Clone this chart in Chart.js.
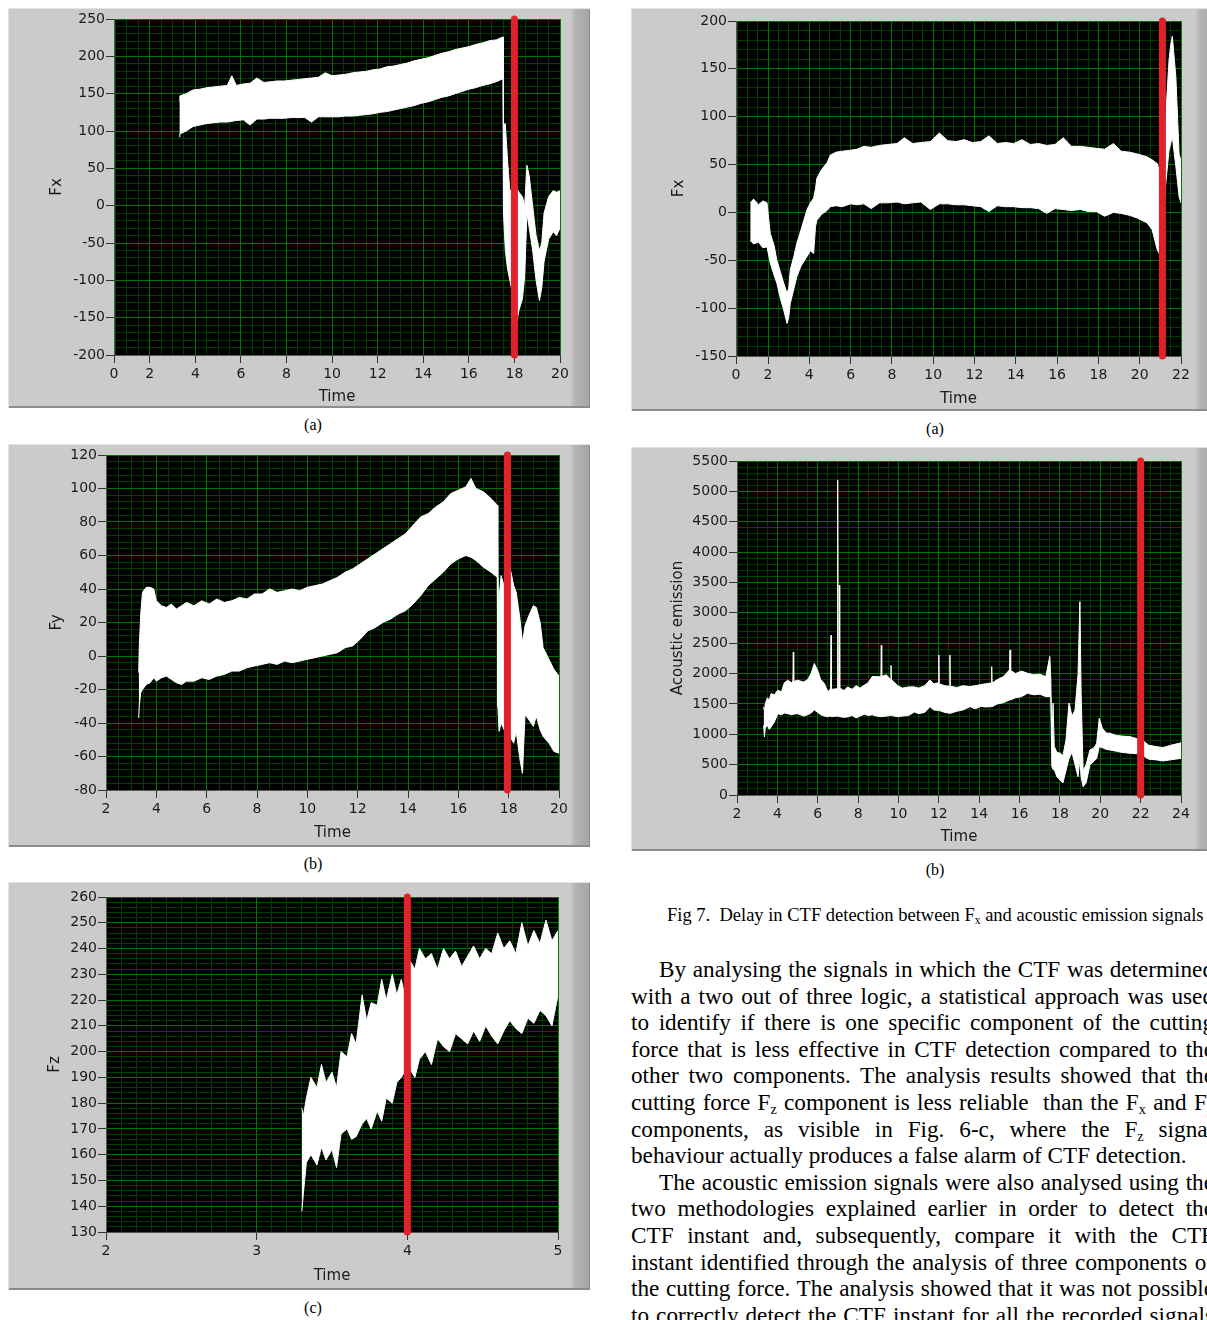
<!DOCTYPE html>
<html lang="en">
<head>
<meta charset="UTF-8">
<title>CTF detection: cutting force and acoustic emission</title>
<script src="https://cdn.jsdelivr.net/npm/chart.js"></script>
<style>
  html, body { margin: 0; padding: 0; background: #fff; }
  body {
    width: 1207px; height: 1320px; position: relative; overflow: hidden;
    font-family: "Liberation Serif", "Times New Roman", serif; color: #000;
  }
  .frame {
    position: absolute;
    background: linear-gradient(to right, #cbcbcb 0, #cbcbcb calc(100% - 20px), #b4b4b4 calc(100% - 15px), #a4a4a4 100%);
    box-shadow: inset 1px 1px 0 #e4e4e4, inset -1px -2px 0 #8c8c8c;
  }
  .frame canvas { position: absolute; left: 0; top: 0; }
  .cap { position: absolute; font-size: 16px; transform: translate(-50%, -50%); white-space: nowrap; }
  .figcap { position: absolute; left: 667px; top: 905px; font-size: 18.5px; white-space: nowrap; }
  .text { position: absolute; left: 631px; top: 956px; width: 583px; font-size: 23.2px; }
  .ln { height: 26.6px; line-height: 26.6px; white-space: nowrap; text-align: justify; text-align-last: justify; }
  .ln.first { text-indent: 28px; }
  .ln.last { text-align-last: left; }
  sub { font-size: 0.62em; vertical-align: -0.25em; line-height: 0; }
</style>
</head>
<body>

<div class="frame" id="f1"><canvas id="c1"></canvas></div>
<div class="frame" id="f2"><canvas id="c2"></canvas></div>
<div class="frame" id="f3"><canvas id="c3"></canvas></div>
<div class="frame" id="f4"><canvas id="c4"></canvas></div>
<div class="frame" id="f5"><canvas id="c5"></canvas></div>

<div class="cap" style="left:313px;top:425px">(a)</div>
<div class="cap" style="left:313px;top:864px">(b)</div>
<div class="cap" style="left:313px;top:1308px">(c)</div>
<div class="cap" style="left:935px;top:429px">(a)</div>
<div class="cap" style="left:935px;top:870px">(b)</div>

<div class="figcap">Fig 7.&nbsp; Delay in CTF detection between F<sub>x</sub> and acoustic emission signals</div>

<div class="text">
  <div class="ln first">By analysing the signals in which the CTF was determined</div>
  <div class="ln">with a two out of three logic, a statistical approach was used</div>
  <div class="ln">to identify if there is one specific component of the cutting</div>
  <div class="ln">force that is less effective in CTF detection compared to the</div>
  <div class="ln">other two components. The analysis results showed that the</div>
  <div class="ln">cutting force F<sub>z</sub> component is less reliable &nbsp;than the F<sub>x</sub> and F<sub>y</sub></div>
  <div class="ln">components, as visible in Fig. 6-c, where the F<sub>z</sub> signal</div>
  <div class="ln last">behaviour actually produces a false alarm of CTF detection.</div>
  <div class="ln first">The acoustic emission signals were also analysed using the</div>
  <div class="ln">two methodologies explained earlier in order to detect the</div>
  <div class="ln">CTF instant and, subsequently, compare it with the CTF</div>
  <div class="ln">instant identified through the analysis of three components of</div>
  <div class="ln">the cutting force. The analysis showed that it was not possible</div>
  <div class="ln">to correctly detect the CTF instant for all the recorded signals</div>
</div>

<script>
// ---- (a) left: Fx vs time, red line = detected CTF instant
const p1Time = [3.30, 3.32, 3.6, 3.9, 4.2, 4.5, 4.8, 5.1, 5.4, 5.6,
  5.8, 6.1, 6.4, 6.7, 7.0, 7.3, 7.6, 7.9, 8.2, 8.5,
  8.8, 9.1, 9.4, 9.7, 10.0, 10.3, 10.6, 10.9, 11.2, 11.5,
  11.8, 12.1, 12.4, 12.7, 13.0, 13.3, 13.6, 13.9, 14.2, 14.5,
  14.8, 15.1, 15.4, 15.7, 16.0, 16.3, 16.6, 16.9, 17.2, 17.5,
  17.52, 17.6, 17.7, 17.8, 18.0, 18.1, 18.2, 18.35, 18.45, 18.55,
  18.65, 18.8, 18.95, 19.1, 19.2, 19.3, 19.5, 19.7, 19.85, 20.0];
const p1Upper = [140, 147, 150, 155, 156, 158, 159, 160, 161, 174,
  161, 163, 164, 171, 165, 166, 167, 167, 168, 169,
  170, 171, 172, 178, 174, 175, 176, 178, 179, 180,
  182, 183, 186, 187, 189, 191, 194, 196, 198, 201,
  204, 206, 209, 211, 213, 216, 218, 221, 222, 226,
  108, 110, 60, 20, 25, 23, 18, 12, 0, 54,
  40, 0, -40, -60, -50, -10, 12, 20, 18, 20];
const p1Lower = [92, 96, 100, 106, 108, 110, 111, 112, 112, 113,
  114, 115, 108, 116, 116, 117, 117, 117, 118, 118,
  118, 112, 119, 119, 119, 119, 120, 120, 121, 122,
  123, 125, 126, 128, 130, 132, 134, 137, 139, 142,
  145, 147, 150, 153, 156, 158, 161, 163, 166, 170,
  -10, -60, -85, -100, -130, -155, -140, -125, -95, -10,
  -30, -60, -100, -127, -110, -75, -45, -35, -40, -30];
const p1Cut = 18;
const p1XTicks = [0.43, 2, 4, 6, 8, 10, 12, 14, 16, 18, 20];
const p1XLabels = ['0', '2', '4', '6', '8', '10', '12', '14', '16', '18', '20'];
const p1YTicks = [-200, -150, -100, -50, 0, 50, 100, 150, 200, 250];

// ---- (b) left: Fy
const p2Time = [3.30, 3.32, 3.38, 3.45, 3.6, 3.75, 3.9, 4.0, 4.2, 4.4,
  4.6, 4.8, 5.0, 5.2, 5.5, 5.8, 6.1, 6.4, 6.7, 7.0,
  7.3, 7.6, 7.9, 8.2, 8.5, 8.8, 9.1, 9.4, 9.7, 10.0,
  10.3, 10.6, 10.9, 11.2, 11.5, 11.8, 12.1, 12.4, 12.7, 13.0,
  13.3, 13.6, 13.9, 14.2, 14.5, 14.8, 15.1, 15.4, 15.7, 16.0,
  16.3, 16.5, 16.7, 17.0, 17.3, 17.55, 17.57, 17.62, 17.70, 17.85,
  18.05, 18.2, 18.3, 18.45, 18.55, 18.65, 18.8, 18.98, 19.1, 19.25,
  19.37, 19.6, 19.8, 20.0];
const p2Upper = [-10, 5, 25, 38, 41, 41, 40, 33, 30, 29,
  31, 28, 30, 32, 30, 33, 31, 34, 32, 33,
  35, 34, 37, 37, 40, 38, 39, 40, 39, 41,
  42, 43, 45, 47, 50, 52, 55, 58, 61, 64,
  67, 70, 73, 78, 83, 85, 89, 92, 97, 99,
  101, 106, 100, 98, 94, 90, 23, 35, 48, 40,
  53, 42, 38, 22, 8, 18, 24, 30, 29, 20,
  5, -2, -8, -12];
const p2Lower = [-37, -30, -22, -20, -17, -16, -13, -15, -13, -12,
  -14, -16, -17, -15, -15, -13, -14, -12, -11, -9,
  -9, -7, -6, -5, -4, -5, -3, -4, -3, -2,
  -1, 0, 1, 2, 5, 6, 10, 15, 17, 20,
  22, 25, 27, 31, 36, 42, 46, 50, 55, 58,
  60, 59, 57, 53, 50, 47, -30, -45, -40, -45,
  -48, -52, -45, -62, -70, -35, -38, -42, -36, -44,
  -48, -52, -57, -58];
const p2Cut = 17.95;
const p2XTicks = [2, 4, 6, 8, 10, 12, 14, 16, 18, 20];
const p2YTicks = [-80, -60, -40, -20, 0, 20, 40, 60, 80, 100, 120];

// ---- (c) left: Fz
const p3Time = [3.30, 3.31, 3.33, 3.36, 3.40, 3.43, 3.46, 3.50, 3.53, 3.56,
  3.60, 3.63, 3.66, 3.70, 3.73, 3.76, 3.80, 3.83, 3.86, 3.90,
  3.93, 3.96, 3.99, 4.02, 4.05, 4.08, 4.12, 4.16, 4.20, 4.24,
  4.28, 4.32, 4.36, 4.40, 4.44, 4.48, 4.52, 4.56, 4.60, 4.64,
  4.68, 4.72, 4.76, 4.80, 4.84, 4.88, 4.92, 4.96, 5.00];
const p3Upper = [178, 175, 182, 190, 186, 195, 188, 192, 186, 200,
  198, 207, 203, 222, 212, 219, 218, 228, 220, 230,
  222, 228, 220, 235, 232, 240, 236, 238, 232, 240,
  236, 239, 233, 237, 241, 236, 240, 238, 246, 240,
  243, 238, 250, 241, 247, 242, 251, 243, 247];
const p3Lower = [138, 145, 157, 160, 156, 163, 158, 162, 155, 168,
  170, 166, 167, 172, 174, 170, 177, 173, 182, 180,
  188, 190, 193, 193, 190, 197, 200, 195, 205, 202,
  200, 207, 205, 203, 208, 204, 210, 206, 203, 208,
  212, 209, 207, 213, 211, 216, 214, 210, 222];
const p3Cut = 4;
const p3XTicks = [2, 3, 4, 5];
const p3YTicks = [130, 140, 150, 160, 170, 180, 190, 200, 210, 220, 230, 240, 250, 260];

// ---- (a) right: Fx
const p4Time = [1.14, 1.30, 1.54, 1.75, 1.95, 2.11, 2.30, 2.43, 2.60, 2.76,
  2.92, 3.00, 3.08, 3.25, 3.40, 3.60, 3.89, 4.05, 4.21, 4.30,
  4.37, 4.60, 4.86, 5.02, 5.3, 5.6, 6.0, 6.3, 6.64, 7.0,
  7.4, 7.8, 8.25, 8.6, 9.0, 9.4, 9.86, 10.3, 10.7, 11.1,
  11.5, 11.9, 12.3, 12.7, 13.1, 13.5, 13.9, 14.3, 14.7, 15.1,
  15.5, 15.9, 16.3, 16.7, 17.13, 17.5, 17.9, 18.3, 18.73, 19.1,
  19.5, 19.9, 20.36, 20.6, 20.85, 21.0, 21.26, 21.42, 21.5, 21.58,
  21.75, 21.91, 22.0];
const p4Upper = [10, 14, 8, 12, 10, -22, -35, -50, -62, -74,
  -84, -80, -60, -46, -32, -18, 3, 10, 15, 25,
  36, 45, 52, 60, 63, 64, 65, 66, 69, 68,
  70, 71, 72, 78, 72, 73, 74, 83, 75, 74,
  76, 73, 74, 80, 72, 73, 72, 76, 71, 72,
  70, 71, 78, 69, 69, 68, 67, 66, 72, 64,
  63, 61, 58, 55, 51, 40, 100, 159, 175, 184,
  142, 60, 55];
const p4Lower = [-29, -33, -31, -37, -36, -53, -66, -74, -90, -102,
  -116, -110, -95, -80, -67, -56, -46, -40, -43, -15,
  -8, -2, 2, 6, 7, 6, 9, 8, 9, 4,
  10, 10, 11, 9, 10, 11, 3, 9, 9, 8,
  8, 7, 6, 1, 7, 6, 6, 5, 5, 4,
  -1, 4, 3, 2, 3, 1, 1, -4, 0, -1,
  -3, -6, -11, -18, -39, -45, 30, 65, 72, 79,
  48, 16, 10];
const p4Cut = 21.1;
const p4XTicks = [0.45, 2, 4, 6, 8, 10, 12, 14, 16, 18, 20, 22];
const p4XLabels = ['0', '2', '4', '6', '8', '10', '12', '14', '16', '18', '20', '22'];
const p4YTicks = [-150, -100, -50, 0, 50, 100, 150, 200];

// ---- (b) right: acoustic emission
const p5Time = [3.32, 3.36, 3.40, 3.50, 3.60, 3.69, 3.85, 4.02, 4.20, 4.35,
  4.51, 4.70, 4.77, 4.79, 4.81, 5.00, 5.30, 5.50, 5.67, 5.83,
  6.00, 6.15, 6.33, 6.50, 6.64, 6.66, 6.68, 6.97, 6.99, 7.01,
  7.05, 7.07, 7.09, 7.30, 7.48, 7.70, 7.90, 8.10, 8.31, 8.50,
  8.70, 8.90, 9.13, 9.15, 9.17, 9.40, 9.61, 9.63, 9.65, 9.96,
  10.20, 10.50, 10.79, 11.00, 11.30, 11.56, 11.75, 11.98, 12.00, 12.02,
  12.30, 12.53, 12.55, 12.57, 12.90, 13.20, 13.54, 13.80, 14.10, 14.30,
  14.60, 14.62, 14.64, 14.90, 15.20, 15.50, 15.53, 15.56, 15.80, 16.10,
  16.40, 16.70, 17.00, 17.30, 17.50, 17.55, 17.60, 17.66, 17.72, 17.85,
  18.00, 18.15, 18.30, 18.45, 18.60, 18.75, 18.90, 18.99, 19.05, 19.15,
  19.30, 19.49, 19.70, 19.82, 19.95, 20.10, 20.30, 20.49, 20.80, 21.10,
  21.48, 21.80, 22.10, 22.40, 22.80, 23.10, 23.50, 23.95, 24.00];
const p5Upper = [1450, 1395, 1500, 1600, 1560, 1670, 1650, 1725, 1700, 1850,
  1890, 1850, 1880, 2355, 1870, 1890, 1860, 1900, 2000, 2165,
  2050, 1900, 1835, 1700, 1750, 2630, 1740, 1750, 5185, 1780,
  1760, 3455, 1760, 1720, 1780, 1740, 1800, 1760, 1810, 1850,
  1950, 1950, 1945, 2470, 1950, 1980, 1900, 2135, 1900, 1800,
  1760, 1780, 1780, 1760, 1800, 1895, 1830, 1850, 2306, 1830,
  1800, 1790, 2306, 1790, 1770, 1800, 1785, 1800, 1820, 1830,
  1845, 2114, 1845, 1900, 1950, 2060, 2389, 2050, 2000, 2040,
  2005, 1980, 1990, 1950, 2280, 1900, 855, 1515, 800, 700,
  690, 650, 900, 1515, 1300, 1400, 2000, 3185, 1700, 400,
  500, 741, 780, 850, 1263, 1100, 1020, 1016, 980, 970,
  961, 930, 900, 820, 796, 780, 820, 855, 860];
const p5Lower = [1150, 955, 1100, 1150, 1080, 1120, 1200, 1340, 1320, 1350,
  1340, 1320, 1330, 1350, 1330, 1340, 1300, 1320, 1350, 1400,
  1360, 1320, 1300, 1290, 1300, 1300, 1290, 1300, 1300, 1300,
  1290, 1290, 1290, 1280, 1285, 1310, 1270, 1300, 1330, 1310,
  1320, 1300, 1290, 1290, 1290, 1300, 1310, 1310, 1310, 1290,
  1300, 1310, 1367, 1340, 1360, 1455, 1400, 1390, 1390, 1390,
  1360, 1345, 1345, 1345, 1380, 1400, 1455, 1420, 1460, 1450,
  1455, 1455, 1455, 1500, 1520, 1565, 1565, 1565, 1600, 1620,
  1675, 1650, 1660, 1620, 1620, 1600, 470, 420, 420, 300,
  250, 197, 400, 600, 700, 500, 300, 600, 300, 137,
  200, 500, 560, 600, 796, 780, 750, 741, 720, 700,
  687, 680, 650, 590, 577, 560, 580, 600, 600];
const p5Cut = 22;
const p5XTicks = [2, 4, 6, 8, 10, 12, 14, 16, 18, 20, 22, 24];
const p5YTicks = [0, 500, 1000, 1500, 2000, 2500, 3000, 3500, 4000, 4500, 5000, 5500];

Chart.defaults.font.family = '"DejaVu Sans", sans-serif';
Chart.defaults.color = '#1a1a1a';

const majorGreen = 'rgb(0,118,0)';
const minorGreen = 'rgb(0,62,0)';

// black plotting area like the LabVIEW graph
const blackPlot = {
  id: 'blackPlot',
  beforeDraw(chart) {
    const { ctx, chartArea: a } = chart;
    ctx.save();
    ctx.fillStyle = '#000';
    ctx.fillRect(a.left, a.top, a.right - a.left, a.bottom - a.top);
    ctx.restore();
  }
};

function fixedTicks(values) {
  return scale => { scale.ticks = values.map(v => ({ value: v })); };
}

// minor grid: one line every `step` across the scale range
function stepTicks(step) {
  return scale => {
    const out = [];
    for (let k = Math.ceil(scale.min / step - 1e-9); k * step <= scale.max + 1e-9; k++) {
      out.push({ value: k * step });
    }
    scale.ticks = out;
  };
}

function makePanel(n, g, d) {
  const [fx, fy, fw, fh] = g.frame;
  const [pl, pt, pr, pb] = g.plot;
  const lh = 15 * 1.2;
  const padLeft = g.yTitleX - fx - lh / 2;
  const padBottom = fh - (g.xTitleY - fy) - lh / 2;
  const yWidth = (pl - fx) - padLeft;
  const xHeight = (fh - padBottom) - (pb - fy);

  const frame = document.getElementById('f' + n);
  frame.style.cssText = `left:${fx}px;top:${fy}px;width:${fw}px;height:${fh}px`;
  const canvas = document.getElementById('c' + n);
  canvas.width = fw;
  canvas.height = fh;

  const pts = ys => d.time.map((t, i) => ({ x: t, y: ys[i] }));
  const yMin = d.yTicks[0], yMax = d.yTicks[d.yTicks.length - 1];
  const xMin = d.xTicks[0], xMax = d.xTicks[d.xTicks.length - 1];

  new Chart(canvas, {
    type: 'line',
    data: {
      datasets: [
        { data: [{ x: d.cut, y: yMin }, { x: d.cut, y: yMax }], borderColor: '#e3212b',
          borderWidth: 7, borderCapStyle: 'round', pointRadius: 0, clip: false },
        { data: pts(d.lower), borderColor: '#fff', borderWidth: 1, pointRadius: 0, fill: false },
        { data: pts(d.upper), borderColor: '#fff', borderWidth: 1, pointRadius: 0,
          fill: '-1', backgroundColor: '#fff' }
      ]
    },
    options: {
      responsive: false,
      animation: false,
      devicePixelRatio: 1,
      layout: { padding: { left: padLeft, top: pt - fy, right: fx + fw - pr, bottom: padBottom } },
      plugins: { legend: { display: false }, tooltip: { enabled: false } },
      elements: { line: { tension: 0 } },
      scales: {
        xm: {
          type: 'linear', position: 'bottom', min: xMin, max: xMax,
          afterBuildTicks: stepTicks(d.xMinor), afterFit: s => { s.height = 0; },
          ticks: { display: false }, border: { display: false },
          grid: { color: minorGreen, drawTicks: false, z: -2 }
        },
        ym: {
          type: 'linear', position: 'left', min: yMin, max: yMax,
          afterBuildTicks: stepTicks(d.yMinor), afterFit: s => { s.width = 0; },
          ticks: { display: false }, border: { display: false },
          grid: { color: minorGreen, drawTicks: false, z: -2 }
        },
        x: {
          type: 'linear', position: 'bottom', min: xMin, max: xMax,
          afterBuildTicks: fixedTicks(d.xTicks), afterFit: s => { s.height = xHeight; },
          ticks: {
            autoSkip: false, maxRotation: 0, padding: 3, color: '#1a1a1a', font: { size: 14 },
            callback: (v, i) => d.xLabels ? d.xLabels[i] : String(v)
          },
          grid: { color: majorGreen, tickColor: '#333', tickLength: 8 },
          border: { color: '#555' },
          title: { display: true, text: 'Time', color: '#1a1a1a', font: { size: 15 }, padding: 0 }
        },
        y: {
          type: 'linear', position: 'left', min: yMin, max: yMax,
          afterBuildTicks: fixedTicks(d.yTicks), afterFit: s => { s.width = yWidth; },
          ticks: { autoSkip: false, padding: 1, color: '#1a1a1a', font: { size: 14 }, callback: v => String(v) },
          grid: { color: majorGreen, tickColor: '#333', tickLength: 8 },
          border: { color: '#555' },
          title: { display: true, text: d.yTitle, color: '#1a1a1a', font: { size: 15 }, padding: 0 }
        }
      }
    },
    plugins: [blackPlot]
  });
}

makePanel(1, { frame: [8, 8, 582, 400], plot: [114, 19, 560, 355], yTitleX: 57, xTitleY: 397 },
  { time: p1Time, upper: p1Upper, lower: p1Lower, cut: p1Cut, xTicks: p1XTicks, xLabels: p1XLabels,
    xMinor: 0.5, yTicks: p1YTicks, yMinor: 10, yTitle: 'Fx' });

makePanel(2, { frame: [8, 444, 582, 403], plot: [106, 455, 559, 790], yTitleX: 57, xTitleY: 833 },
  { time: p2Time, upper: p2Upper, lower: p2Lower, cut: p2Cut, xTicks: p2XTicks,
    xMinor: 0.5, yTicks: p2YTicks, yMinor: 4, yTitle: 'Fy' });

makePanel(3, { frame: [8, 882, 582, 408], plot: [106, 897, 558, 1232], yTitleX: 55, xTitleY: 1276 },
  { time: p3Time, upper: p3Upper, lower: p3Lower, cut: p3Cut, xTicks: p3XTicks,
    xMinor: 0.1, yTicks: p3YTicks, yMinor: 2, yTitle: 'Fz' });

makePanel(4, { frame: [631, 8, 584, 403], plot: [736, 21, 1181, 356], yTitleX: 679, xTitleY: 399 },
  { time: p4Time, upper: p4Upper, lower: p4Lower, cut: p4Cut, xTicks: p4XTicks, xLabels: p4XLabels,
    xMinor: 0.5, yTicks: p4YTicks, yMinor: 10, yTitle: 'Fx' });

makePanel(5, { frame: [631, 447, 584, 404], plot: [737, 461, 1181, 795], yTitleX: 678, xTitleY: 837 },
  { time: p5Time, upper: p5Upper, lower: p5Lower, cut: p5Cut, xTicks: p5XTicks,
    xMinor: 0.5, yTicks: p5YTicks, yMinor: 100, yTitle: 'Acoustic emission' });
</script>
</body>
</html>
